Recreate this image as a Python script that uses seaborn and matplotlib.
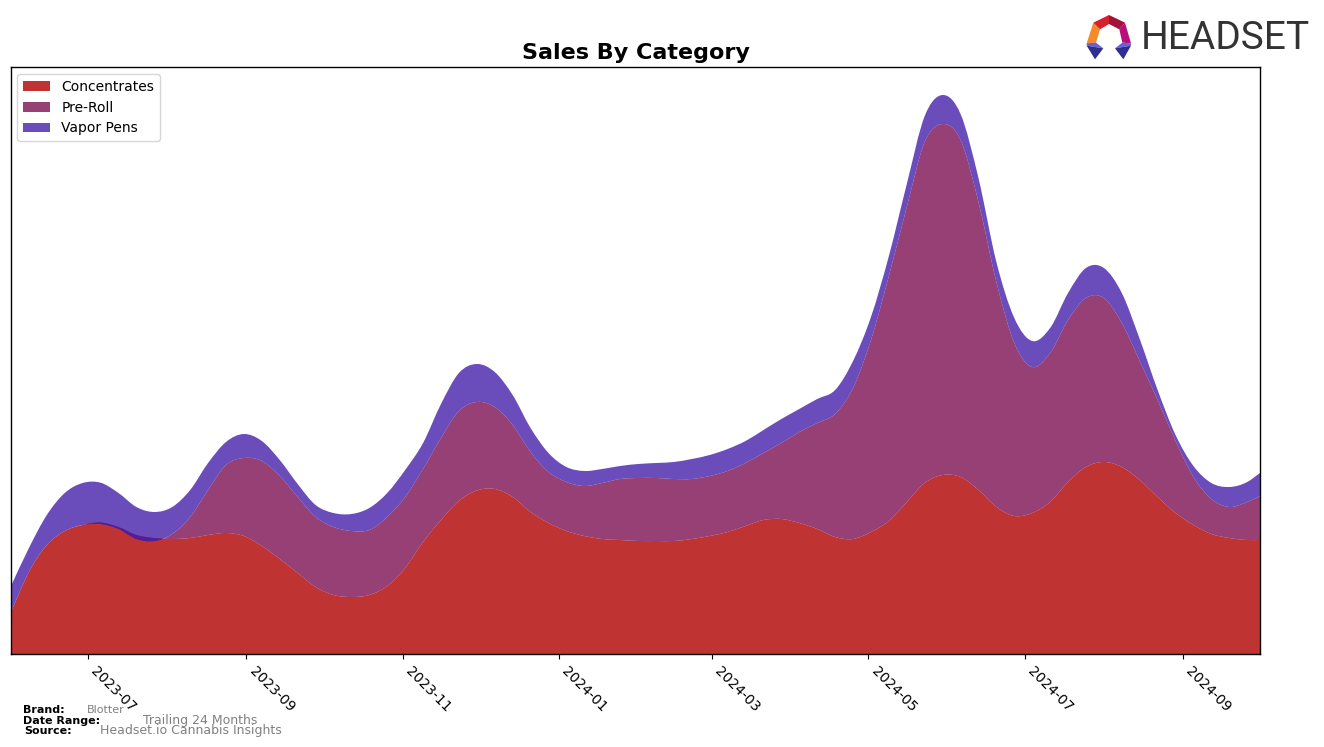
import pandas as pd
import numpy as np
import matplotlib
matplotlib.use('Agg')
import matplotlib.pyplot as plt
import matplotlib.dates as mdates
from matplotlib.patches import Polygon, PathPatch
from matplotlib.path import Path
import seaborn as sns

# weekly readings, last one is the right edge
dates = list(pd.date_range('2023-06-01', periods=70, freq='7D')) + [pd.Timestamp('2024-10-01')]

concentrates = [42, 82, 109, 123, 129, 131.5, 127, 119, 116, 115,
                116, 119, 121, 118, 108, 95, 81, 67, 59, 57,
                59, 68, 86, 112, 134, 153, 163.5, 165, 157, 142,
                131, 123, 118, 115, 114, 113, 113, 113, 115, 118,
                122, 128, 134, 135, 131, 125, 117, 115, 122, 133,
                152, 171, 179, 177, 164, 147, 138, 141, 152, 172,
                187, 192, 187, 174, 157, 141, 129, 120, 116, 114, 114]
pre_roll = [0, 0, 0, 0, 0, -1.5, -2, -4, -3, 5,
            21, 45, 68, 78, 85, 83, 76, 70, 68, 66,
            65, 69, 71, 73, 82, 90, 88.5, 82, 72, 60,
            51, 49, 50, 56, 61, 63, 63, 62, 60, 60,
            61, 63, 67, 76, 91, 106, 123, 151, 192, 245,
            295, 341, 351, 337, 288, 225, 173, 146, 149, 162,
            169, 164, 144, 119, 97, 72, 48, 35, 31, 38, 44]
vapor_pens = [26, 24, 30, 38, 42, 41.3, 36, 32, 29, 27,
              27, 27, 23, 24, 20, 16, 13, 12, 14, 17,
              22, 24, 27, 26, 34, 38, 38, 35, 30, 24,
              19, 15, 15, 14, 13, 14, 15, 17, 20, 21,
              22, 22, 23, 24, 23, 24, 24, 27, 23, 20,
              23, 26, 29, 26, 24, 20, 25, 26, 25, 27,
              30, 30, 30, 22, 10, 6, 11, 16, 20, 20, 23]

labels = ['Concentrates', 'Pre-Roll', 'Vapor Pens']
colors = ['#b00000', '#7c1053', '#4521aa']

sns.set_theme(style='ticks', rc={'axes.linewidth': 1.0})

W, H = 1324, 747
fig = plt.figure(figsize=(W / 100, H / 100), dpi=100)
ax = fig.add_axes([11 / W, 1 - 654 / H, (1260 - 11) / W, (654 - 67) / H])


# same stacking as stackplot, but with curved edges through the readings
def curve(x, y):
    m = np.gradient(y, x)
    dx = np.diff(x)
    pts = []
    for i in range(len(dx)):
        pts.append((x[i] + dx[i] / 3, y[i] + m[i] * dx[i] / 3))
        pts.append((x[i + 1] - dx[i] / 3, y[i + 1] - m[i + 1] * dx[i] / 3))
        pts.append((x[i + 1], y[i + 1]))
    return pts


def band(x, lower, upper):
    top = curve(x, upper)
    bottom = curve(x[::-1], lower[::-1])
    verts = [(x[0], upper[0])] + top + [(x[-1], lower[-1])] + bottom + [(x[0], upper[0])]
    codes = [Path.MOVETO] + [Path.CURVE4] * len(top) + [Path.LINETO] + [Path.CURVE4] * len(bottom) + [Path.CLOSEPOLY]
    return Path(verts, codes)


x = mdates.date2num(dates)
base = np.zeros(len(x))
for values, label, color in zip([concentrates, pre_roll, vapor_pens], labels, colors):
    upper = base + np.array(values)
    ax.add_patch(PathPatch(band(x, base, upper), facecolor=color, edgecolor='none', alpha=0.8, label=label))
    base = upper

ax.set_xlim(pd.Timestamp('2023-06-01'), pd.Timestamp('2024-10-01'))
ax.set_ylim(0, 587)
ax.set_yticks([])
ax.xaxis.set_major_locator(mdates.MonthLocator(bymonth=[1, 3, 5, 7, 9, 11]))
ax.xaxis.set_major_formatter(mdates.DateFormatter('%Y-%m'))
ax.tick_params(axis='x', length=3.5, width=0.8, labelsize=10, colors='black', pad=3.5)
plt.setp(ax.get_xticklabels(), rotation=-45, ha='left')
for s in ax.spines.values():
    s.set_visible(True)
    s.set_color('black')

ax.set_title('Sales By Category', fontsize=16, fontweight='bold', color='black', pad=0, y=1.013)
ax.legend(loc='upper left', bbox_to_anchor=(6 / 1249, 1 - 7 / 587), borderaxespad=0, fontsize=10, frameon=True,
          labelcolor='black', facecolor='white', edgecolor='#cccccc')


# footer
def px_text(x, y, s, **kw):
    fig.text(x / W, 1 - y / H, s, va='center', ha='left', **kw)


px_text(23, 710, 'Brand:', fontsize=8, fontweight='bold', color='black')
px_text(87, 710, 'Blotter', fontsize=8, color='gray')
px_text(23, 720.5, 'Date Range:', fontsize=8, fontweight='bold', color='black')
px_text(143, 720.5, 'Trailing 24 Months', fontsize=9, color='gray')
px_text(24, 730.5, 'Source:', fontsize=8, fontweight='bold', color='black')
px_text(100, 730.5, 'Headset.io Cannabis Insights', fontsize=9, color='gray')

# logo
logo = fig.add_axes([0, 0, 1, 1], facecolor='none')
logo.set_xlim(0, W)
logo.set_ylim(H, 0)
logo.axis('off')
pieces = [
    ([(100, 68), (120, 88), (108, 128), (80, 130)], '#f58a2a'),
    ([(100, 68), (147, 45), (147, 72), (120, 88)], '#d8202f'),
    ([(147, 45), (195, 68), (178, 88), (147, 72)], '#a3123a'),
    ([(195, 68), (213, 130), (187, 128), (178, 88)], '#b80f7c'),
    ([(80, 130), (108, 128), (130, 145), (80, 137)], '#6a5fd6'),
    ([(80, 137), (130, 145), (105, 178)], '#2f2f8f'),
    ([(213, 130), (187, 128), (165, 145), (213, 137)], '#6a5fd6'),
    ([(213, 137), (165, 145), (190, 178)], '#2f2f8f'),
]
for pts, c in pieces:
    logo.add_patch(Polygon([(1060 + a / 3, b / 3) for a, b in pts], closed=True, fc=c, ec='none'))
px_text(1141, 38.5, 'HEADSET', fontsize=28, color='#333333', family='Roboto')

fig.savefig('out.png', dpi=100)
